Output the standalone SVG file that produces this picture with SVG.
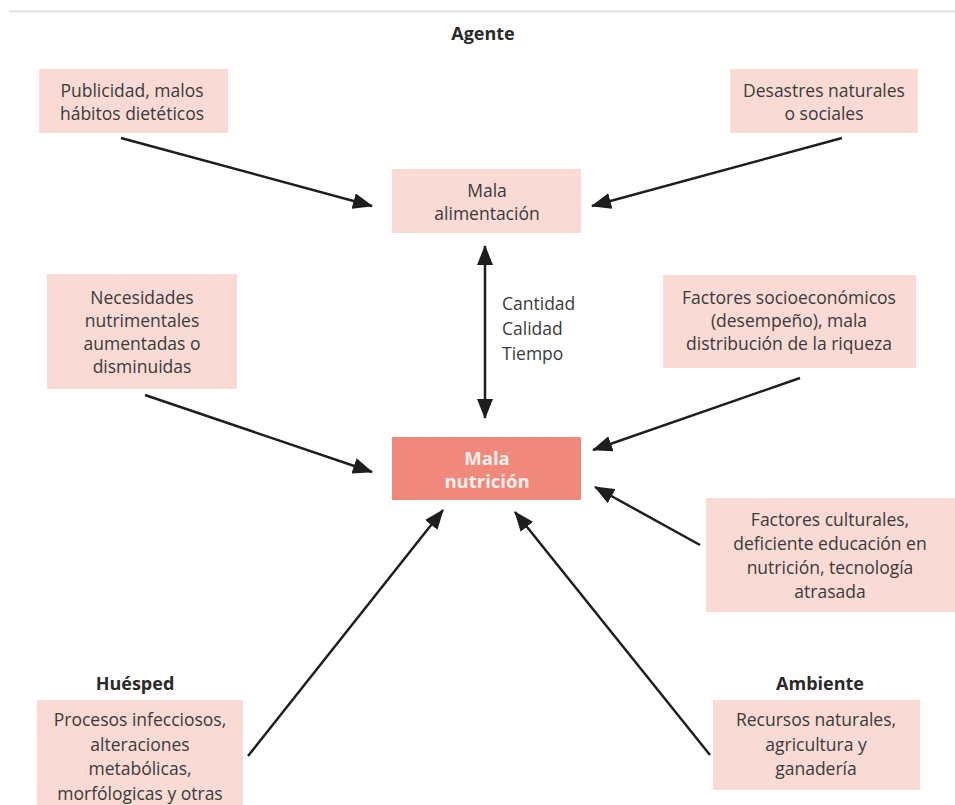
<svg xmlns="http://www.w3.org/2000/svg" width="955" height="805" viewBox="0 0 955 805">
<defs>
<marker id="ah" markerUnits="userSpaceOnUse" markerWidth="20" markerHeight="16" viewBox="0 0 20 16" refX="19" refY="8" orient="auto-start-reverse">
<path d="M0,0 L20,8 L0,16 Z" fill="#1e1e1e"/>
</marker>
</defs>
<style>
.box{fill:#f9dad4}
.main{fill:#f0897b}
.t{font-family:"Open Sans","Noto Sans","Liberation Sans",sans-serif;font-size:17.5px;fill:#3b3b3b;text-anchor:middle}
.b{font-family:"Open Sans","Noto Sans","Liberation Sans",sans-serif;font-size:18px;font-weight:bold;fill:#2a2a2a;text-anchor:middle}
.w{font-family:"Open Sans","Noto Sans","Liberation Sans",sans-serif;font-size:18.5px;font-weight:bold;fill:#fdf0ec;text-anchor:middle}
.c{stroke:#1e1e1e;stroke-width:2.5;fill:none;marker-end:url(#ah)}
</style>
<rect width="955" height="805" fill="#ffffff"/>
<rect x="9" y="10" width="946" height="2.5" fill="#e6e6e6"/>
<text class="b" x="483" y="40">Agente</text>

<g id="publicidad">
<rect class="box" x="39" y="69" width="189" height="64"/>
<text class="t" x="132" y="97">Publicidad, malos</text>
<text class="t" x="132" y="120">hábitos dietéticos</text>
</g>
<g id="desastres">
<rect class="box" x="730" y="69" width="188" height="64"/>
<text class="t" x="824" y="97">Desastres naturales</text>
<text class="t" x="824" y="120">o sociales</text>
</g>
<g id="alimentacion">
<rect class="box" x="392" y="169" width="189" height="64"/>
<text class="t" x="487" y="197">Mala</text>
<text class="t" x="487" y="220">alimentación</text>
</g>
<g id="necesidades">
<rect class="box" x="47" y="274" width="190" height="115"/>
<text class="t" x="142" y="304">Necesidades</text>
<text class="t" x="142" y="327">nutrimentales</text>
<text class="t" x="142" y="350">aumentadas o</text>
<text class="t" x="142" y="373">disminuidas</text>
</g>
<g id="socioeconomicos">
<rect class="box" x="663" y="275" width="253" height="93"/>
<text class="t" x="789" y="304">Factores socioeconómicos</text>
<text class="t" x="789" y="327">(desempeño), mala</text>
<text class="t" x="789" y="350">distribución de la riqueza</text>
</g>
<g id="nutricion">
<rect class="main" x="392" y="437" width="189" height="63"/>
<text class="w" x="487" y="465">Mala</text>
<text class="w" x="487" y="488">nutrición</text>
</g>
<g id="culturales">
<rect class="box" x="706" y="498" width="249" height="114"/>
<text class="t" x="830" y="526">Factores culturales,</text>
<text class="t" x="830" y="550">deficiente educación en</text>
<text class="t" x="830" y="574">nutrición, tecnología</text>
<text class="t" x="830" y="598">atrasada</text>
</g>
<g id="huesped">
<text class="b" x="135" y="690">Huésped</text>
<rect class="box" x="37" y="700" width="206" height="105"/>
<text class="t" x="140" y="726">Procesos infecciosos,</text>
<text class="t" x="140" y="751">alteraciones</text>
<text class="t" x="140" y="775">metabólicas,</text>
<text class="t" x="140" y="800">morfólogicas y otras</text>
</g>
<g id="ambiente">
<text class="b" x="820" y="690">Ambiente</text>
<rect class="box" x="713" y="700" width="207" height="90"/>
<text class="t" x="816" y="726">Recursos naturales,</text>
<text class="t" x="816" y="751">agricultura y</text>
<text class="t" x="816" y="775">ganadería</text>
</g>
<g id="cct">
<text class="t" x="502" y="310" style="text-anchor:start">Cantidad</text>
<text class="t" x="502" y="335" style="text-anchor:start">Calidad</text>
<text class="t" x="502" y="360" style="text-anchor:start">Tiempo</text>
</g>

<g id="connectors">
<line class="c" x1="121" y1="138" x2="372" y2="206"/>
<line class="c" x1="842" y1="138" x2="592" y2="206"/>
<line class="c" x1="485" y1="246" x2="485" y2="418" style="marker-start:url(#ah)"/>
<line class="c" x1="145" y1="395" x2="372" y2="472"/>
<line class="c" x1="800" y1="378" x2="593" y2="450"/>
<line class="c" x1="700" y1="545" x2="595" y2="487"/>
<line class="c" x1="248" y1="756" x2="443" y2="510"/>
<line class="c" x1="710" y1="755" x2="515" y2="512"/>
</g>
</svg>
